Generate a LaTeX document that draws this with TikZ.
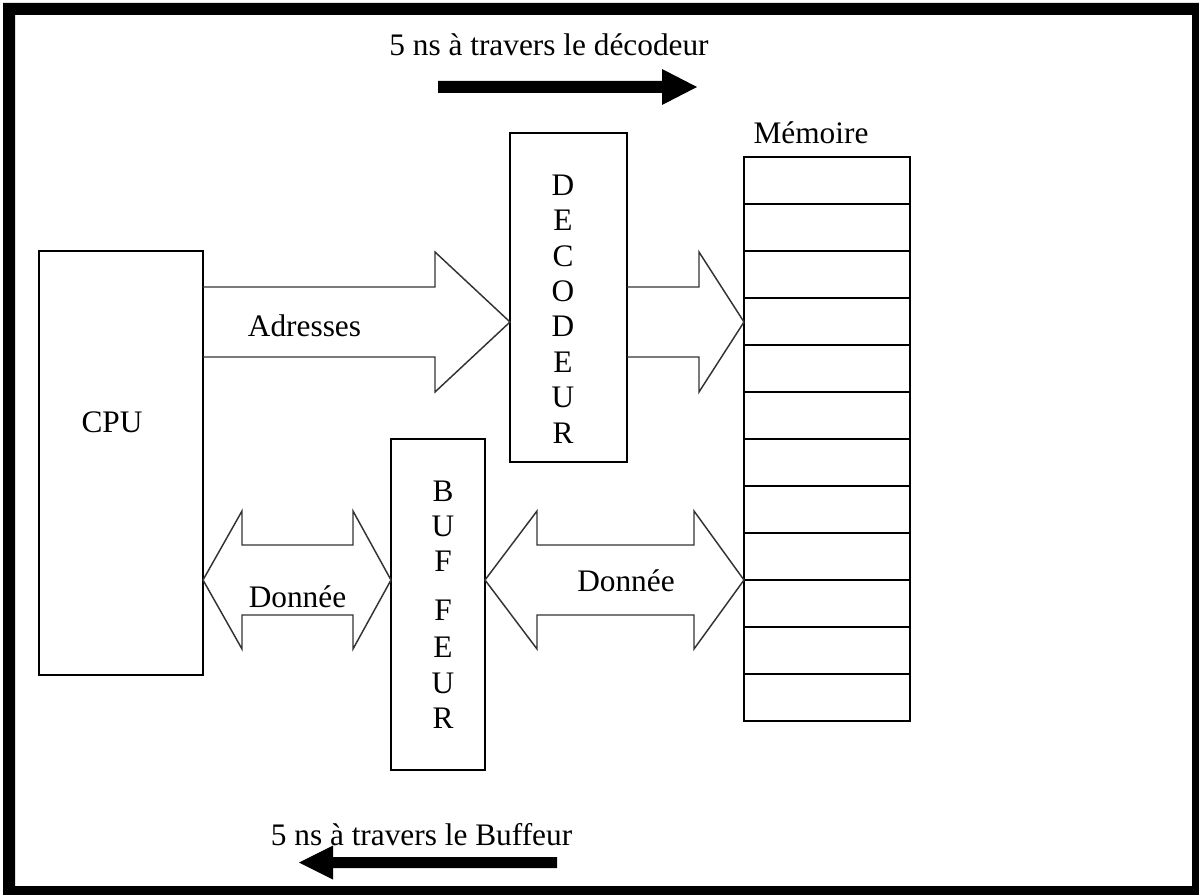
\documentclass[tikz,border=0pt]{standalone}
\usepackage{fontspec}
\setmainfont{Liberation Serif}
\usetikzlibrary{calc}

% right-pointing block arrow: tail point, tip point, head length (px)
\newcommand{\blockright}[3]{%
  \draw[blockarrow] ($#1+(0,-35)$) -- ($#2+(-#3,-35)$) -- ($#2+(-#3,-70)$)
    -- #2 -- ($#2+(-#3,70)$) -- ($#2+(-#3,35)$) -- ($#1+(0,35)$);}
% two-headed block arrow: left tip, right tip, left and right head lengths (px)
\newcommand{\blockboth}[4]{%
  \draw[blockarrow] #1 -- ($#1+(#3,-69)$) -- ($#1+(#3,-35)$) -- ($#2+(-#4,-35)$)
    -- ($#2+(-#4,-69)$) -- #2 -- ($#2+(-#4,69)$) -- ($#2+(-#4,35)$)
    -- ($#1+(#3,35)$) -- ($#1+(#3,69)$) -- cycle;}

\begin{document}
\begin{tikzpicture}[x=0.75pt,y=-0.75pt,
  box/.style={draw=black, line width=1.5pt, inner sep=0pt, outer sep=0pt},
  cell/.style={draw=black, line width=1.5pt},
  blockarrow/.style={draw=black!80, line width=1.1pt, line join=miter},
  txt/.style={font=\fontsize{23.5pt}{28pt}\selectfont, inner sep=0pt},
  letter/.style={font=\fontsize{23.5pt}{28pt}\selectfont, inner sep=0pt}]

% page and frame
\fill[white] (0,0) rectangle (1199,895);
\useasboundingbox (0,0) rectangle (1199,895);
\fill[black, even odd rule] (3,3) rectangle (1199,895) (15,15) rectangle (1192,886);

% main blocks
\node[box, minimum width=123pt, minimum height=318pt] (cpu) at (121,463) {};
\node[box, minimum width=87.75pt, minimum height=246.75pt] (dec) at (568.5,297.5) {};
\node[box, minimum width=70.5pt, minimum height=248.25pt] (buf) at (438,604.5) {};
\node[box, minimum width=124.5pt, minimum height=423pt] (mem) at (827,439) {};

% memory cells
\foreach \i in {1,...,11}
  \draw[cell] ($(mem.north west)+(0,\i*47)$) -- ($(mem.north east)+(0,\i*47)$);

% labels of the blocks
\node[txt] (cpulbl) at (112,422) {CPU};
\node[txt] (memlbl) at (811,133) {Mémoire};
\foreach \l [count=\i] in {D,E,C,O,D,E,U,R}
  \node[letter] (decl\i) at (563,{185+35.4*(\i-1)}) {\l};
\foreach \l/\y [count=\i] in {B/491,U/526,F/561,F/610,E/647,U/683,R/718}
  \node[letter] (bufl\i) at (443,\y) {\l};

% bus axes
\coordinate (addr) at (0,322);
\coordinate (data) at (0,580);

% address bus
\blockright{(cpu.east|-addr)}{(dec.west|-addr)}{75}
\blockright{(dec.east|-addr)}{(mem.west|-addr)}{45}
\node[txt] (adrlbl) at (304.5,326) {Adresses};

% data bus
\blockboth{(cpu.east|-data)}{(buf.west|-data)}{39}{38}
\blockboth{(buf.east|-data)}{(mem.west|-data)}{52}{50}
\node[txt] (datl1) at (297.5,597) {Donnée};
\node[txt] (datl2) at (626,581) {Donnée};

% timing notes
\node[txt] (tdec) at (549,45) {5 ns à travers le décodeur};
\coordinate (ta) at (438,87);
\coordinate (tb) at (697,87);
\fill[black] ($(ta)+(0,-6)$) -- ($(tb)+(-35,-6)$) -- ($(tb)+(-35,-18)$) -- (tb)
  -- ($(tb)+(-35,18)$) -- ($(tb)+(-35,6)$) -- ($(ta)+(0,6)$) -- cycle;

\node[txt] (tbuf) at (421.5,835) {5 ns à travers le Buffeur};
\coordinate (ba) at (557,862.5);
\coordinate (bb) at (299,862.5);
\fill[black] ($(ba)+(0,-5.5)$) -- ($(bb)+(34,-5.5)$) -- ($(bb)+(34,-17)$) -- (bb)
  -- ($(bb)+(34,17)$) -- ($(bb)+(34,5.5)$) -- ($(ba)+(0,5.5)$) -- cycle;
\end{tikzpicture}
\end{document}
